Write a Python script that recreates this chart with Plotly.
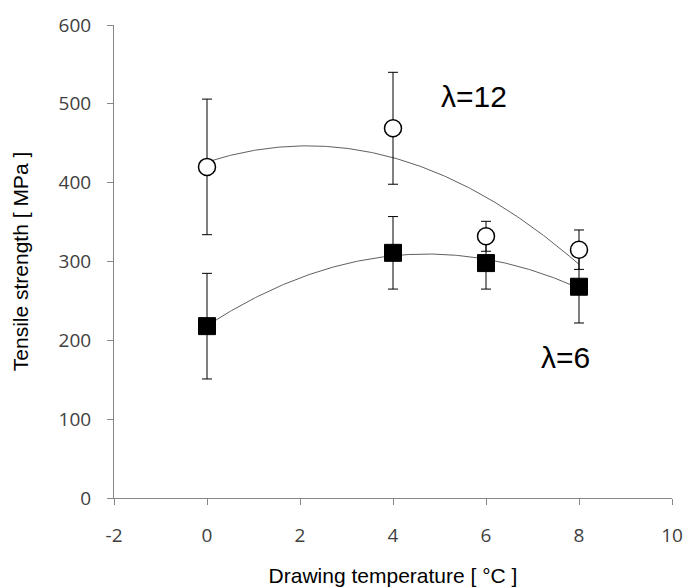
import numpy as np
import plotly.graph_objects as go

# Data
temp = [0, 4, 6, 8]
l12_strength = [420, 469, 332, 315]
l12_err = [86, 71, 19, 25]
l6_strength = [218, 311, 298, 268]
l6_err = [67, 46, 33, 46]

x_ticks = [-2, 0, 2, 4, 6, 8, 10]
x_ticktext = ["-2", "0", "2", "4", "6", "8", "10"]
y_ticks = [0, 100, 200, 300, 400, 500, 600]

# Excel-style polynomial (order 2) trendlines fitted to the data
xs = np.linspace(min(temp), max(temp), 200)
fit12 = np.polyval(np.polyfit(temp, l12_strength, 2), xs)
fit6 = np.polyval(np.polyfit(temp, l6_strength, 2), xs)

fig = go.Figure()
fig.add_trace(go.Scatter(x=xs, y=fit12, mode="lines",
                         line=dict(color="#606060", width=1), hoverinfo="skip"))
fig.add_trace(go.Scatter(x=xs, y=fit6, mode="lines",
                         line=dict(color="#606060", width=1), hoverinfo="skip"))
fig.add_trace(go.Scatter(
    x=temp, y=l6_strength, mode="markers", name="λ=6",
    marker=dict(symbol="square", size=17, color="black",
                line=dict(color="black", width=1)),
    error_y=dict(type="data", array=l6_err, color="black", thickness=1, width=5)))
fig.add_trace(go.Scatter(
    x=temp, y=l12_strength, mode="markers", name="λ=12",
    marker=dict(symbol="circle", size=17, color="white",
                line=dict(color="black", width=1.5)),
    error_y=dict(type="data", array=l12_err, color="black", thickness=1, width=5)))

fig.add_annotation(x=5.74, y=509, text="λ=12", showarrow=False,
                   font=dict(family="Liberation Sans, Arial", size=30, color="black"))
fig.add_annotation(x=7.72, y=178, text="λ=6", showarrow=False,
                   font=dict(family="Liberation Sans, Arial", size=30, color="black"))

tickfont = dict(family="Open Sans, sans-serif", size=19, color="#404040")
fig.update_layout(
    width=686, height=587,
    margin=dict(l=114, r=14, t=25, b=89),
    paper_bgcolor="white", plot_bgcolor="white",
    showlegend=False,
    xaxis=dict(range=[-2, 10], tickvals=x_ticks, ticktext=x_ticktext,
               showgrid=False, zeroline=False, automargin=False,
               showline=True, linecolor="#868686", linewidth=1,
               ticks="outside", ticklen=6, tickcolor="#868686",
               tickfont=tickfont, ticklabelstandoff=14,
               title=dict(text="Drawing temperature [ °C ]", standoff=36,
                          font=dict(family="Liberation Sans, Arial", size=21, color="black"))),
    yaxis=dict(range=[0, 600], tickvals=y_ticks, showgrid=False, zeroline=False,
               automargin=False,
               showline=True, linecolor="#868686", linewidth=1,
               ticks="outside", ticklen=6, tickcolor="#868686",
               tickfont=tickfont, ticklabelstandoff=12,
               title=dict(text="Tensile strength [ MPa ]", standoff=24,
                          font=dict(family="Liberation Sans, Arial", size=21, color="black"))),
)

fig.write_html("out.html")
